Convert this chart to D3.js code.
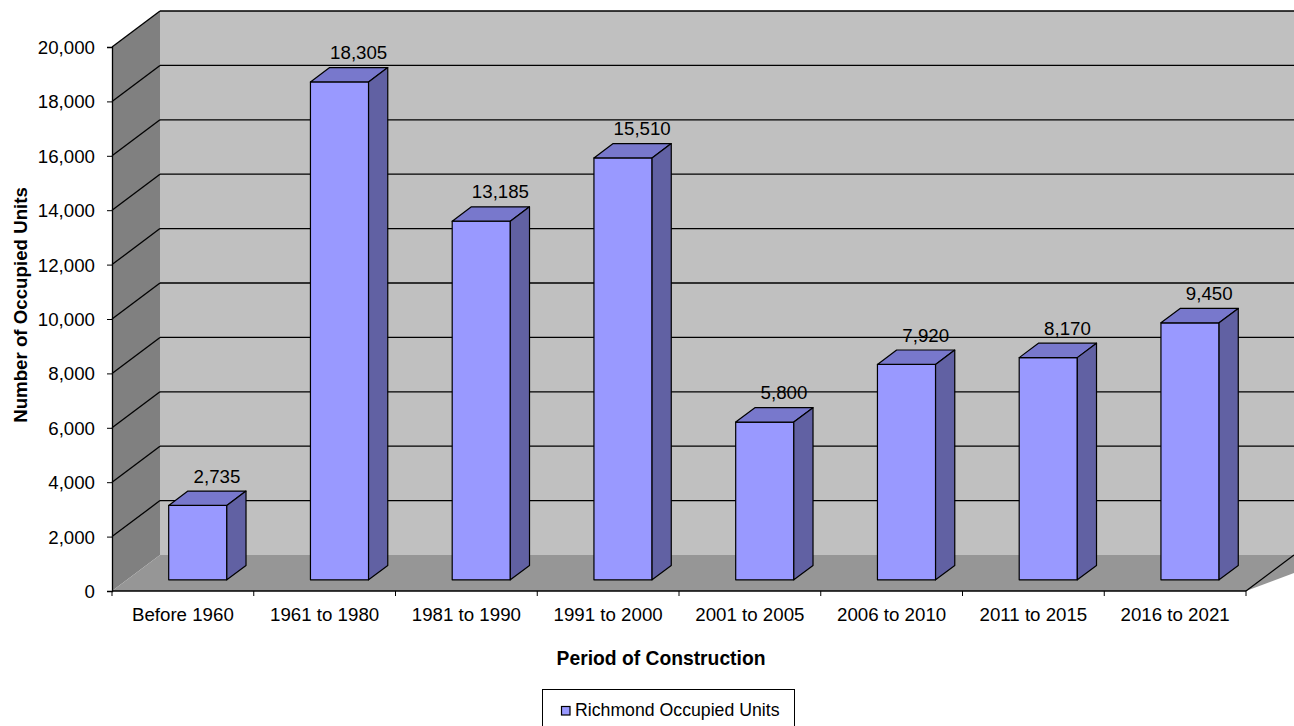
<!DOCTYPE html>
<html lang="en">
<meta charset="utf-8">
<head>
    <title>Richmond Occupied Units by Period of Construction</title>
    <script src="https://cdn.jsdelivr.net/npm/d3@7"></script>
    <style>
        body { margin: 0; background: #fff; font-family: "Liberation Sans", Arial, sans-serif; }
        svg text { fill: #000; font-family: "Liberation Sans", Arial, sans-serif; }
    </style>
</head>
<body>
<script>
    // chart data
    const periods = ["Before 1960", "1961 to 1980", "1981 to 1990", "1991 to 2000",
                     "2001 to 2005", "2006 to 2010", "2011 to 2015", "2016 to 2021"];
    const units = [2735, 18305, 13185, 15510, 5800, 7920, 8170, 9450];
    const yTicks = [0, 2000, 4000, 6000, 8000, 10000, 12000, 14000, 16000, 18000, 20000];

    const W = 1294, H = 726;
    const fontSize = 18.7;
    // front plane of the plot, plus the 3D depth offset
    const plotLeft = 112, plotRight = 1246, plotBottom = 591, plotTop = 47;
    const depthX = 48, depthY = -36;

    const svg = d3.select("body").append("svg")
        .attr("width", W)
        .attr("height", H);

    const x = d3.scaleBand()
        .domain(periods)
        .range([plotLeft, plotRight])
        .paddingInner(0.59)
        .paddingOuter(0.295);

    const y = d3.scaleLinear()
        .domain([0, 20000])
        .range([plotBottom, plotTop]);

    // point at value v, screen x px, depth fraction d (0 = front, 1 = back)
    const pt = (px, v, d) => [px + depthX * d, y(v) + depthY * d];
    const poly = pts => pts.map(p => p.join(",")).join(" ");

    // walls and floor
    svg.append("polygon")
        .attr("points", poly([pt(plotLeft, 20000, 1), pt(W, 20000, 1), pt(W, 0, 1), pt(plotLeft, 0, 1)]))
        .attr("fill", "#c0c0c0");
    svg.append("polygon")
        .attr("points", poly([pt(plotLeft, 20000, 0), pt(plotLeft, 20000, 1), pt(plotLeft, 0, 1), pt(plotLeft, 0, 0)]))
        .attr("fill", "#808080");
    svg.append("polygon")
        .attr("points", poly([pt(plotLeft, 0, 0), pt(plotLeft, 0, 1), pt(W, 0, 1), pt(plotRight, 0, 0)]))
        .attr("fill", "#969696");

    // gridlines on back wall and left wall
    const grid = svg.append("g").attr("stroke", "#000").attr("stroke-width", 1.3);
    yTicks.filter(v => v > 0).forEach(v => {
        grid.append("line")
            .attr("x1", pt(plotLeft, v, 1)[0]).attr("y1", pt(plotLeft, v, 1)[1])
            .attr("x2", W).attr("y2", pt(plotLeft, v, 1)[1]);
        grid.append("line")
            .attr("x1", plotLeft).attr("y1", y(v))
            .attr("x2", pt(plotLeft, v, 1)[0]).attr("y2", pt(plotLeft, v, 1)[1]);
    });
    // right floor edge
    grid.append("line")
        .attr("x1", plotRight).attr("y1", y(0))
        .attr("x2", pt(plotRight, 0, 1)[0]).attr("y2", pt(plotRight, 0, 1)[1]);

    // y axis
    const yAxis = svg.append("g")
        .attr("transform", `translate(${plotLeft},0)`)
        .call(d3.axisLeft(y).tickValues(yTicks).tickSize(5).tickPadding(12).tickFormat(d3.format(",")));
    yAxis.select(".domain").attr("stroke", "#000").attr("stroke-width", 1.3);
    yAxis.selectAll("line").attr("stroke", "#000");
    yAxis.selectAll("text")
        .attr("font-size", fontSize)
        .attr("font-family", "Liberation Sans, Arial, sans-serif")
        .attr("dy", "0.35em");

    // x axis (ticks on category boundaries)
    const step = x.step();
    svg.append("line")
        .attr("x1", plotLeft).attr("y1", plotBottom).attr("x2", plotRight).attr("y2", plotBottom)
        .attr("stroke", "#000").attr("stroke-width", 1.3);
    svg.append("g")
        .selectAll("line")
        .data(d3.range(periods.length + 1))
        .join("line")
        .attr("x1", i => plotLeft + i * step).attr("x2", i => plotLeft + i * step)
        .attr("y1", plotBottom).attr("y2", plotBottom + 5)
        .attr("stroke", "#000");
    svg.append("g")
        .selectAll("text")
        .data(periods)
        .join("text")
        .attr("x", (d, i) => plotLeft + (i + 0.5) * step)
        .attr("y", 621)
        .attr("text-anchor", "middle")
        .attr("font-size", fontSize)
        .text(d => d);

    // 3D bars
    const dFront = 0.31, dBack = 0.71;
    const barColor = { front: "#9999ff", top: "#7878cc", side: "#6161a3" };
    const bars = svg.append("g")
        .attr("stroke", "#000")
        .attr("stroke-width", 1.2)
        .attr("stroke-linejoin", "round");
    periods.forEach((p, i) => {
        const x0 = x(p), x1 = x(p) + x.bandwidth(), v = units[i];
        bars.append("polygon")
            .attr("points", poly([pt(x0, v, dFront), pt(x1, v, dFront), pt(x1, 0, dFront), pt(x0, 0, dFront)]))
            .attr("fill", barColor.front);
        bars.append("polygon")
            .attr("points", poly([pt(x0, v, dFront), pt(x0, v, dBack), pt(x1, v, dBack), pt(x1, v, dFront)]))
            .attr("fill", barColor.top);
        bars.append("polygon")
            .attr("points", poly([pt(x1, v, dFront), pt(x1, v, dBack), pt(x1, 0, dBack), pt(x1, 0, dFront)]))
            .attr("fill", barColor.side);
    });

    // value labels
    svg.append("g")
        .selectAll("text")
        .data(periods)
        .join("text")
        .attr("x", (d, i) => pt(x(d) + x.bandwidth() / 2, units[i], dBack)[0])
        .attr("y", (d, i) => pt(0, units[i], dBack)[1] - 8.5)
        .attr("text-anchor", "middle")
        .attr("font-size", fontSize)
        .text((d, i) => d3.format(",")(units[i]));

    // axis titles
    svg.append("text")
        .attr("transform", "translate(27,305) rotate(-90)")
        .attr("text-anchor", "middle")
        .attr("font-size", fontSize)
        .attr("font-weight", "bold")
        .text("Number of Occupied Units");
    svg.append("text")
        .attr("x", 661)
        .attr("y", 665)
        .attr("text-anchor", "middle")
        .attr("font-size", 19.3)
        .attr("font-weight", "bold")
        .text("Period of Construction");

    // legend
    const legend = svg.append("g");
    legend.append("rect")
        .attr("x", 542.5).attr("y", 689.5)
        .attr("width", 252).attr("height", 45)
        .attr("fill", "#fff").attr("stroke", "#000");
    legend.append("rect")
        .attr("x", 561.5).attr("y", 706.5)
        .attr("width", 8.5).attr("height", 8.5)
        .attr("fill", barColor.front).attr("stroke", "#000").attr("stroke-width", 1.2);
    legend.append("text")
        .attr("x", 575).attr("y", 716)
        .attr("font-size", 17.7)
        .text("Richmond Occupied Units");
</script>
</body>
</html>
